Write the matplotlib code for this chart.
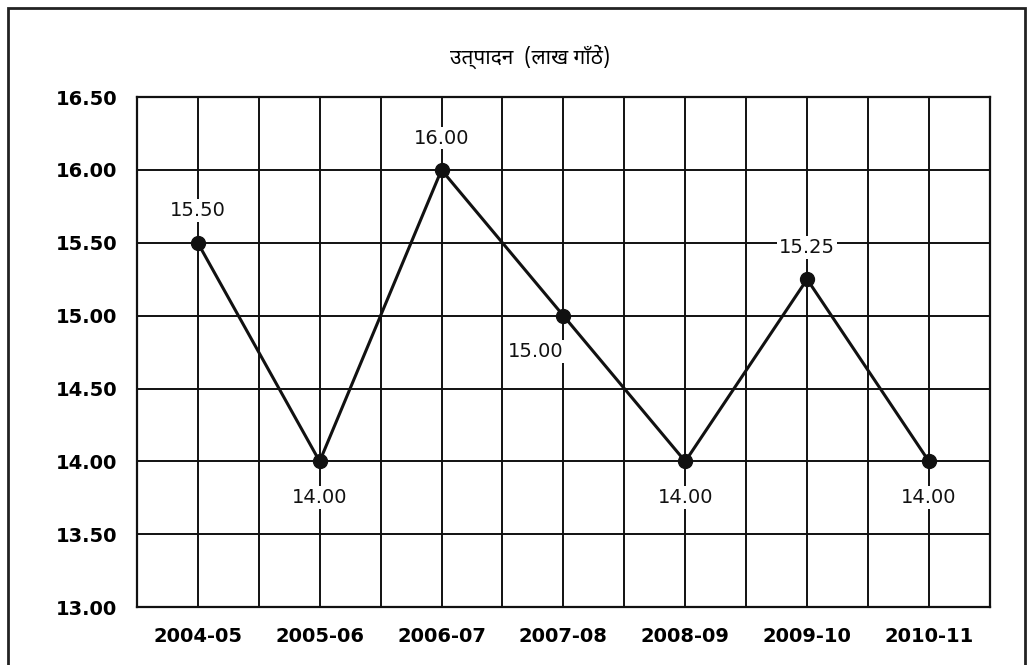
import matplotlib.pyplot as plt
import numpy as np
from matplotlib.patches import Rectangle

years = ["2004-05", "2005-06", "2006-07", "2007-08", "2008-09", "2009-10", "2010-11"]
production = [15.50, 14.00, 16.00, 15.00, 14.00, 15.25, 14.00]
labels = ["15.50", "14.00", "16.00", "15.00", "14.00", "15.25", "14.00"]
label_above = [True, False, True, False, False, True, False]
title = "उत्पादन  (लाख गाँठें)"

fig = plt.figure(figsize=(10.29, 6.65), dpi=100)
ax = fig.add_axes([0.133, 0.087, 0.829, 0.767])

x = np.arange(len(years))
ax.plot(x, production, color="#111111", lw=2.2, marker="o", ms=10, zorder=3)

for i, (xi, yi, lab, up) in enumerate(zip(x, production, labels, label_above)):
    dy = 23 if up else -26
    dx = -20 if i == 3 else 0
    ax.annotate(lab, (xi, yi), xytext=(dx, dy), textcoords="offset points",
                ha="center", va="center", fontsize=14, color="#111111", zorder=4,
                bbox=dict(boxstyle="square,pad=0.1", fc="white", ec="none"))

ax.set_xlim(-0.5, len(years) - 0.5)
ax.set_ylim(13.0, 16.5)
ax.set_yticks(np.arange(13.0, 16.51, 0.5))
ax.set_yticklabels([f"{v:.2f}" for v in np.arange(13.0, 16.51, 0.5)],
                   fontsize=14, fontweight="bold")
ax.set_xticks(x)
ax.set_xticklabels(years, fontsize=14, fontweight="bold")
ax.set_xticks(np.arange(-0.5, len(years), 1.0), minor=True)
ax.tick_params(which="both", length=0, pad=14)
ax.tick_params(axis="y", pad=14)
ax.grid(which="both", axis="x", color="#111111", lw=1.4)
ax.grid(which="major", axis="y", color="#111111", lw=1.4)
for s in ax.spines.values():
    s.set_linewidth(1.6)
    s.set_color("#111111")

fig.text(0.515, 0.915, title, ha="center", va="center", fontsize=15, fontweight="bold",
         family=["Noto Sans Devanagari", "Noto Sans", "DejaVu Sans"])

fig.patches.append(Rectangle((0.008, -0.05), 0.988, 1.038, transform=fig.transFigure,
                             fill=False, lw=2, edgecolor="#222222"))

fig.savefig("out.png", dpi=100)
